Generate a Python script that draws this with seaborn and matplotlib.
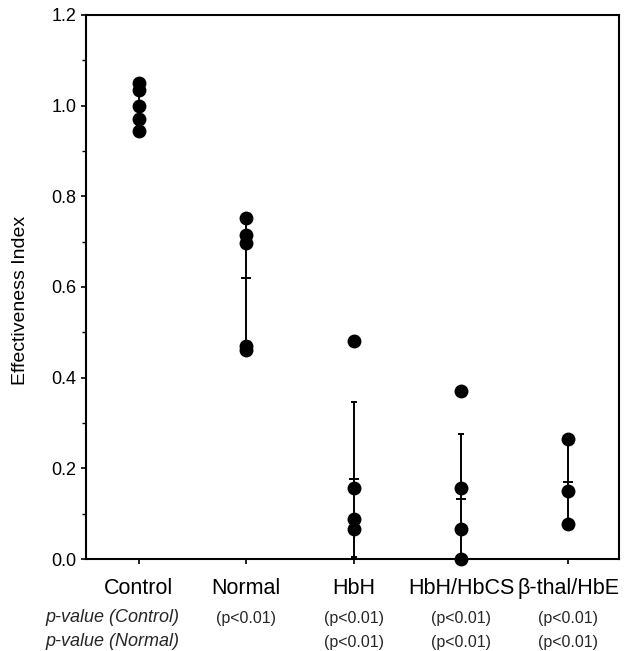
import pandas as pd
import matplotlib
matplotlib.use('Agg')
import matplotlib.pyplot as plt
import matplotlib.transforms as mtransforms
from matplotlib.ticker import MultipleLocator
import seaborn as sns

# Valores
groups = ['Control', 'Normal', 'HbH', 'HbH/HbCS', 'β-thal/HbE']
control = [1.050, 1.034, 1.000, 0.970, 0.944]
normal = [0.752, 0.714, 0.697, 0.470, 0.461]
hbh = [0.481, 0.157, 0.089, 0.066]
hbh_hbcs = [0.371, 0.157, 0.067, 0.000]
bthal_hbe = [0.264, 0.151, 0.078]
group_means = [1.000, 0.620, 0.176, 0.132, 0.170]
group_sds = [0.043, 0.141, 0.171, 0.144, 0.094]
p_vs_control = ['', '(p<0.01)', '(p<0.01)', '(p<0.01)', '(p<0.01)']
p_vs_normal = ['', '', '(p<0.01)', '(p<0.01)', '(p<0.01)']

series = [control, normal, hbh, hbh_hbcs, bthal_hbe]
df = pd.DataFrame({
    'grupo': [g for g, vals in zip(groups, series) for _ in vals],
    'valor': [v for vals in series for v in vals],
})

sns.set_style('ticks')
plt.rcParams['font.family'] = ['Liberation Sans', 'DejaVu Sans']

fig = plt.figure(figsize=(6.28, 6.51), dpi=100)
ax = fig.add_axes([86 / 628, 92 / 651, 533 / 628, 544 / 651])

# barras de error (media ± DE) debajo de los puntos
ax.errorbar(range(len(groups)), group_means, yerr=group_sds, fmt='_',
            color='black', ms=7, mew=1.4, capsize=2.3, elinewidth=1.4,
            capthick=1.4, zorder=2)

sns.stripplot(data=df, x='grupo', y='valor', order=groups, jitter=False,
              color='black', size=10, linewidth=0, ax=ax, zorder=3)
for coll in ax.collections:
    coll.set_clip_on(False)

ax.set_xlim(-0.49, 4.47)
ax.set_ylim(0, 1.2)
ax.yaxis.set_major_locator(MultipleLocator(0.2))
ax.yaxis.set_minor_locator(MultipleLocator(0.1))
ax.yaxis.set_major_formatter(matplotlib.ticker.FormatStrFormatter('%.1f'))

for s in ax.spines.values():
    s.set_color('black')
    s.set_linewidth(1.5)

ax.tick_params(axis='y', which='major', length=3.6, width=1.2, labelsize=13,
               pad=3.5, colors='black')
ax.tick_params(axis='y', which='minor', length=3, width=1.0, colors='black')
ax.tick_params(axis='x', length=3.6, width=1.2, labelsize=15.5, pad=10,
               colors='black')

ax.set_xlabel('')
ax.set_ylabel('Effectiveness Index', fontsize=14, color='black')
ax.yaxis.set_label_coords(-0.107, 0.476)

# filas de valores p
trans = mtransforms.blended_transform_factory(ax.transData, fig.transFigure)
row_y = [1 - 618 / 651, 1 - 642 / 651]
fig.text(45 / 628, row_y[0], 'p-value (Control)', style='italic',
         fontsize=13, ha='left', va='center')
fig.text(45 / 628, row_y[1], 'p-value (Normal)', style='italic',
         fontsize=13, ha='left', va='center')
for i, (pc, pn) in enumerate(zip(p_vs_control, p_vs_normal)):
    if pc:
        ax.text(i, row_y[0], pc, transform=trans, fontsize=11.5,
                ha='center', va='center')
    if pn:
        ax.text(i, row_y[1], pn, transform=trans, fontsize=11.5,
                ha='center', va='center')

fig.savefig('out.png', dpi=100)
